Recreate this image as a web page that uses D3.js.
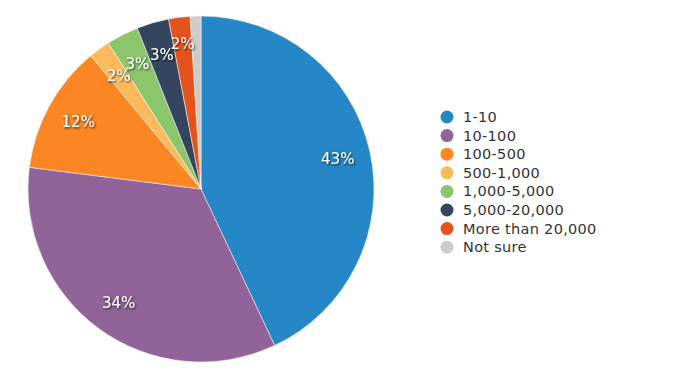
<!DOCTYPE html>
<html>
<head>
<meta charset="utf-8">
<script src="https://cdn.jsdelivr.net/npm/d3@7"></script>
<style>
  body { margin: 0; background: #fff; }
  .chart text { font-family: "DejaVu Sans", Verdana, sans-serif; }
</style>
</head>
<body>
<div class="chart"></div>
<script>
var width = 675, height = 380;

var categories = ['1-10', '10-100', '100-500', '500-1,000', '1,000-5,000', '5,000-20,000', 'More than 20,000', 'Not sure'];
var values = [43, 34, 12, 2, 3, 3, 2, 1];
var colourPalette = ['#2587c5', '#916499', '#fb8624', '#fdba5c', '#8bc56c', '#34465f', '#e5531c', '#cccccc'];

var data = categories.map(function (c, i) { return { name: c, value: values[i] }; });

var svg = d3.select('.chart')
    .append('svg')
    .attr('width', width)
    .attr('height', height);

var defs = svg.append('defs');
var filter = defs.append('filter').attr('id', 'shadow')
    .attr('x', '-20%').attr('y', '-20%').attr('width', '140%').attr('height', '140%');
filter.append('feDropShadow')
    .attr('dx', 1).attr('dy', 1.2).attr('stdDeviation', 0.9)
    .attr('flood-color', '#000').attr('flood-opacity', 0.8);

var radius = 173;
var g = svg.append('g').attr('transform', 'translate(201,189)');

var scaleColor = d3.scaleOrdinal().domain(categories).range(colourPalette);

var pie = d3.pie().value(function (d) { return d.value; }).sort(null);
var arc = d3.arc().innerRadius(0).outerRadius(radius);

var arcs = pie(data);

g.selectAll('path')
    .data(arcs)
    .enter()
    .append('path')
    .attr('d', arc)
    .attr('fill', function (d) { return scaleColor(d.data.name); })
    .attr('stroke', '#fff')
    .attr('stroke-width', 0.5);

var total = d3.sum(values);

// label placement, pushed outward when it collides with the previous one
var labelled = arcs.filter(function (d) { return d.data.value >= 2; });
var placed = [];
labelled.forEach(function (d) {
    var a = (d.startAngle + d.endAngle) / 2;
    var r = radius * 0.81;
    var x, y;
    for (var k = 0; k < 20; k++) {
        x = Math.sin(a) * r;
        y = -Math.cos(a) * r;
        var hit = placed.some(function (p) {
            return Math.abs(p.x - x) < 24 && Math.abs(p.y - y) < 10;
        });
        if (!hit) break;
        r += 1.5;
    }
    placed.push({ x: x, y: y, d: d });
});

g.selectAll('text.lbl')
    .data(placed)
    .enter()
    .append('text')
    .attr('class', 'lbl')
    .attr('x', function (p) { return p.x; })
    .attr('y', function (p) { return p.y; })
    .attr('text-anchor', 'middle')
    .attr('dy', '0.35em')
    .attr('fill', '#fff')
    .attr('font-size', 15)
    .attr('filter', 'url(#shadow)')
    .text(function (p) { return Math.round(p.d.data.value / total * 100) + '%'; });

// legend
var legend = svg.append('g').attr('transform', 'translate(447,117)');
var item = legend.selectAll('g')
    .data(categories)
    .enter()
    .append('g')
    .attr('transform', function (d, i) { return 'translate(0,' + (i * 18.6) + ')'; });

item.append('circle')
    .attr('r', 6.5)
    .attr('fill', function (d) { return scaleColor(d); });

item.append('text')
    .attr('x', 16)
    .attr('dy', '0.35em')
    .attr('font-size', 14.5)
    .attr('letter-spacing', 0.3)
    .attr('fill', '#333')
    .text(function (d) { return d; });
</script>
</body>
</html>
